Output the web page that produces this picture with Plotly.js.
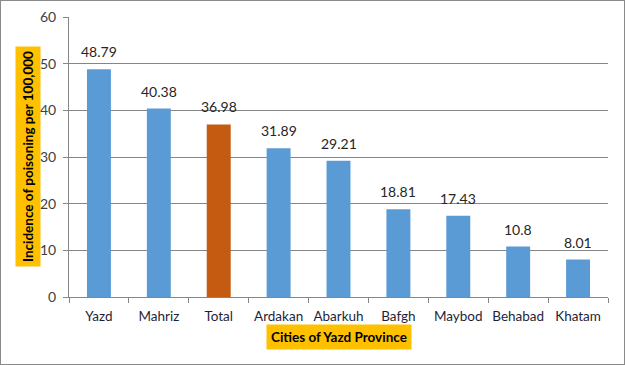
<!DOCTYPE html>
<html>
<head>
<script src="https://cdn.plot.ly/plotly-3.0.1.min.js"></script>
<style>
html,body{margin:0;padding:0;background:#fff;}
#chart{width:623px;height:363px;border:1px solid #8a8a8a;}
</style>
</head>
<body>
<div id="chart"></div>
<script>
const cities = ["Yazd","Mahriz","Total","Ardakan","Abarkuh","Bafgh","Maybod","Behabad","Khatam"];
const incidence = [48.79,40.38,36.98,31.89,29.21,18.81,17.43,10.8,8.01];
const barColors = ["#5B9BD5","#5B9BD5","#C55A11","#5B9BD5","#5B9BD5","#5B9BD5","#5B9BD5","#5B9BD5","#5B9BD5"];
const yTicks = [0,10,20,30,40,50,60];

const FONT = "Lato, 'Open Sans', sans-serif";

const trace = {
  type: "bar",
  x: cities,
  y: incidence,
  marker: {color: barColors},
  width: 0.4,
  hoverinfo: "none"
};

const labelAnnotations = cities.map((c, i) => ({
  x: c, y: incidence[i], xref: "x", yref: "y",
  text: String(incidence[i]),
  showarrow: false, xanchor: "center", yanchor: "bottom", yshift: 7,
  font: {family: FONT, size: 14, color: "#262626"}
}));

const layout = {
  width: 623, height: 363,
  margin: {l: 68, r: 16, t: 16, b: 67},
  paper_bgcolor: "#fff",
  plot_bgcolor: "#fff",
  showlegend: false,
  font: {family: FONT, size: 13, color: "#262626"},
  xaxis: {
    type: "category",
    showline: true, linecolor: "#868686", linewidth: 1,
    ticks: "outside", tickson: "boundaries", ticklen: 5, tickcolor: "#868686",
    tickangle: 0, ticklabelstandoff: 7,
    tickfont: {size: 13.5, color: "#1f1f3a"},
    showgrid: false
  },
  yaxis: {
    range: [0, 60],
    tickvals: yTicks,
    showline: true, linecolor: "#868686", linewidth: 1,
    ticks: "outside", ticklen: 5, tickcolor: "#868686",
    ticklabelstandoff: 4,
    gridcolor: "#868686", gridwidth: 1,
    zeroline: false,
    tickfont: {size: 14, color: "#404040"}
  },
  annotations: labelAnnotations.concat([
    {
      text: "Incidence of poisoning per 100,000",
      xref: "paper", yref: "paper", x: 0, y: 0.5,
      xanchor: "center", yanchor: "middle", xshift: -41,
      textangle: -90, showarrow: false,
      bgcolor: "#FFC000", borderpad: 4,
      font: {size: 13.5, color: "#000", family: FONT, weight: "bold"}
    },
    {
      text: "Cities of Yazd Province",
      xref: "paper", yref: "paper", x: 0.5, y: 0,
      xanchor: "center", yanchor: "middle", yshift: -40,
      showarrow: false,
      bgcolor: "#FFC000", borderpad: 4,
      font: {size: 13.5, color: "#000", family: FONT, weight: "bold"}
    }
  ])
};

Plotly.newPlot("chart", [trace], layout, {displayModeBar: false, staticPlot: true});
</script>
</body>
</html>
